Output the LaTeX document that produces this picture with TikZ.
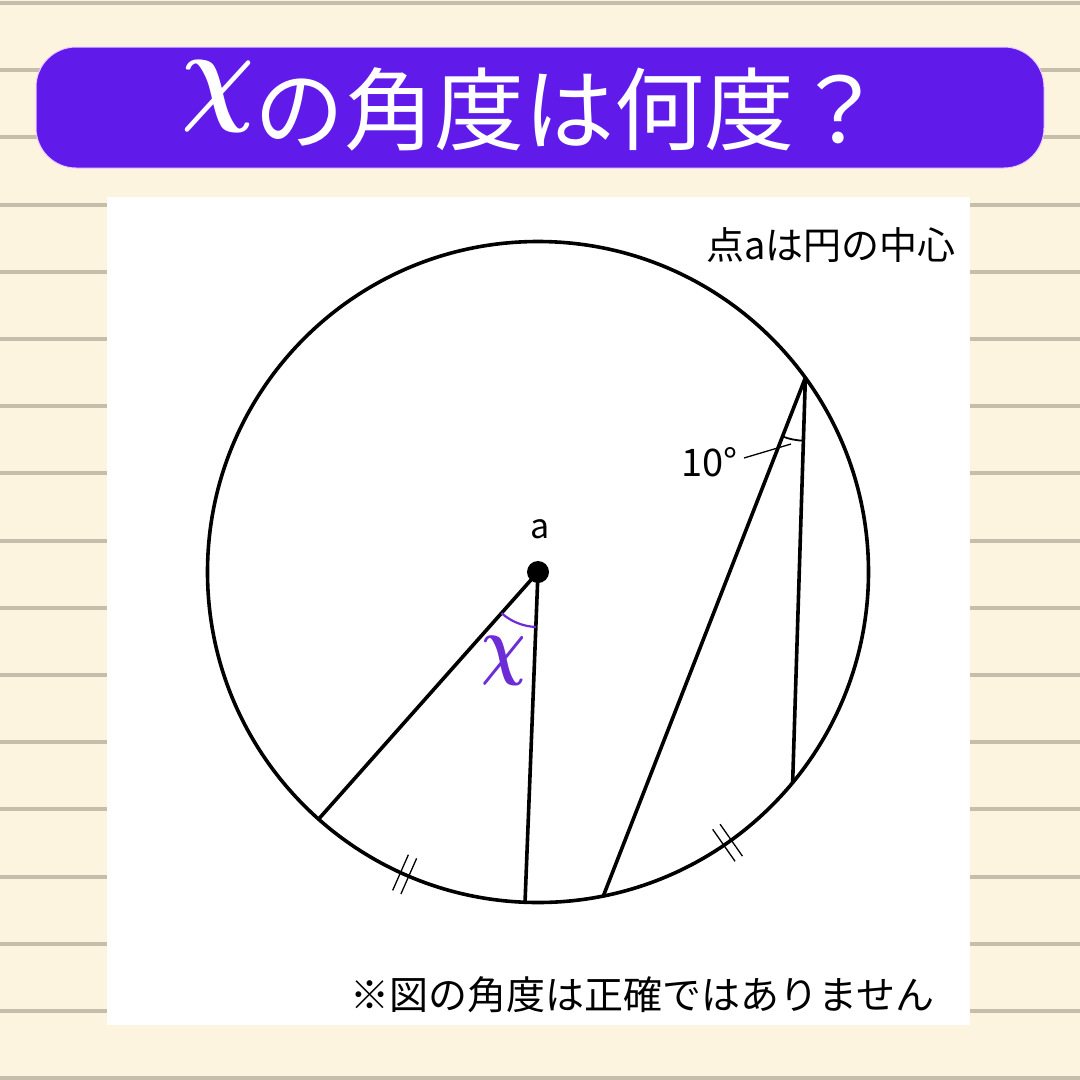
\documentclass[tikz,border=0pt]{standalone}
\usepackage{bm}
\usepackage{fontspec}
\newfontfamily\jp{Noto Sans CJK JP}
\usetikzlibrary{calc}
\definecolor{bgcream}{RGB}{253,244,224}
\definecolor{stripe}{RGB}{198,189,170}
\definecolor{bannerpurple}{RGB}{96,27,234}
\definecolor{banneredge}{RGB}{240,205,255}
\definecolor{anglepurple}{RGB}{108,44,214}
\tikzset{
  stripeline/.style={draw=stripe, line width=4pt},
  geo/.style={draw=black, line width=3.6pt},
  thinmark/.style={draw=black, line width=1.3pt},
  jptext/.style={font=\jp\fontsize{38}{44}\selectfont, text=black, inner sep=0pt},
}
\begin{document}
\begin{tikzpicture}[x=1pt,y=-1pt]
\useasboundingbox (0,0) rectangle (1080,1080);
% background
\fill[bgcream] (0,0) rectangle (1080,1080);
\foreach \k in {0,...,16}{
  \draw[stripeline] (0,{3+67.2*\k}) -- (1080,{3+67.2*\k});
}
% banner
\node[fill=bannerpurple, draw=banneredge, line width=1pt, rounded corners=40pt,
      minimum width=1008pt, minimum height=121pt, inner sep=0pt] (banner) at (540,107.5) {};
\node[text=white, inner sep=0pt, anchor=base west] (title) at (181,143)
  {\raisebox{33pt}{\scalebox{10.2}[11.2]{$\bm{\chi}$}}\jp\fontsize{90}{96}\selectfont の角度は何度？};
% panel
\fill[white] (107,197) rectangle (970,1025);
% circle
\coordinate (c) at (538,572);
\node[geo, circle, minimum size=661pt, inner sep=0pt] (circ) at (c) {};
% points on circle (image angles, y downward)
\coordinate (p1) at ($(c)+(131.6:330.5)$);
\coordinate (p2) at ($(c)+(92.25:330.5)$);
\coordinate (v)  at ($(c)+(-36:330.5)$);
\coordinate (q1) at ($(c)+(78.6:330.5)$);
\coordinate (q2) at ($(c)+(39.6:330.5)$);
% lines
\draw[geo, line cap=round] (c) -- (p1);
\draw[geo, line cap=round] (c) -- (p2);
\draw[geo, line cap=round, line join=round] (q1) -- (v) -- (q2);
% center dot and label
\node[circle, fill=black, minimum size=22pt, inner sep=0pt] (a) at (c) {};
\node[font=\jp\fontsize{34}{38}\selectfont, inner sep=0pt] (alabel) at (540,529) {a};
% angle x
\draw[draw=anglepurple, line width=2.2pt] ($(c)+(131.6:55)$) arc[start angle=131.6, end angle=92.25, radius=55];
\node[text=anglepurple, inner sep=0pt] (xlabel) at (504,661)
  {\scalebox{6.2}[7.7]{$\bm{\chi}$}};
% 10 degree angle
\draw[thinmark, line width=1.8pt] ($(v)+(111.34:63)$) arc[start angle=111.34, end angle=91.7, radius=63];
\node[jptext, anchor=east] (ten) at (738,462) {10°};
\coordinate (tenend) at (791,444);
\draw[thinmark] (ten.east) ++(6,-4) -- (tenend);
% equal-arc ticks
\foreach \ang in {113.8,55}{
  \draw[thinmark] ($(c)+(\ang:311)+({\ang-90}:4.5)$) -- ($(c)+(\ang:350)+({\ang-90}:4.5)$);
  \draw[thinmark] ($(c)+(\ang:311)+({\ang+90}:4.5)$) -- ($(c)+(\ang:350)+({\ang+90}:4.5)$);
}
% texts
\node[jptext, anchor=east] (note1) at (956,245) {点aは円の中心};
\node[jptext, font=\jp\fontsize{39}{44}\selectfont, anchor=east] (note2) at (935,995) {※図の角度は正確ではありません};
\end{tikzpicture}
\end{document}
